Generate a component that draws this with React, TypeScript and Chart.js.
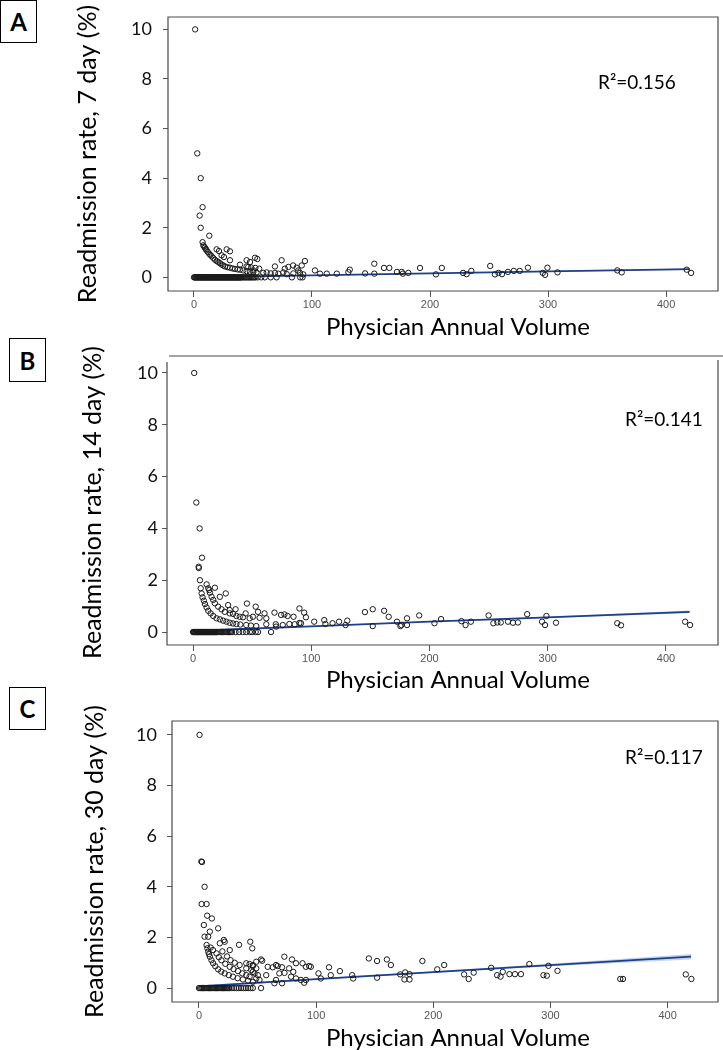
import React, { useEffect, useRef } from "react";
import { Chart, registerables } from "chart.js";

Chart.register(...registerables);

// ---------------- data ----------------
const X_TICKS = [0, 100, 200, 300, 400];
const Y_TICKS = [0, 2, 4, 6, 8, 10];
const FIT_X = [0, 100, 200, 300, 420];

// Panel A (7 day)
const A_ZERO_X = [0,0.5,1,1.5,2,2.5,3,3.5,4,4.5,5,5.5,6,6.5,7,7.5,8,8.5,9,9.5,10,10.5,11,11.5,12,12.5,13,13.5,14,14.5,15,15.5,16,16.5,17,17.5,18,18.5,19,19.5,20,20.5,21,21.5,22,22.5,23,23.5,24,24.5,25,25.5,26,26.5,27,27.5,28,28.5,29,29.5,30,30.5,31,31.5,32,32.5,33,33.5,34,34.5,35,35.5,36,36.5,37,37.5,38,38.5,39,39.5,40,41,42,43,44,45,46,47,48,49,50,51,52,54,57,60,65,70,83,90,92];
const A_POINTS: [number, number][] = [
  [1,10],[2.8,5.0],[5.7,4.0],[7.3,2.83],[4.8,2.49],[5.7,2.0],[13,1.68],[7.3,1.42],
  [7.9,1.29],[8.6,1.24],[9.3,1.2],[10,1.14],[10.7,1.09],[11.8,1.02],[13,0.95],[14,0.9],[15,0.85],[16.4,0.78],
  [17.8,0.71],[19.2,0.66],[20.6,0.62],[22,0.57],[23.4,0.52],[24.8,0.48],[26.3,0.44],[28.4,0.41],[30.5,0.39],
  [32.6,0.36],[34.7,0.34],[37,0.32],[39,0.31],[41.8,0.28],[44.6,0.25],[47.5,0.23],[50.3,0.21],[53,0.19],
  [19.2,1.13],[21.2,1.06],[27.7,1.13],[30.5,1.05],[23.4,0.89],[25.4,0.82],[30.5,0.69],[39,0.51],[44.6,0.69],
  [47.5,0.62],[51.7,0.79],[53.7,0.74],[44.6,0.44],[46,0.42],[48.5,0.4],[52,0.38],[55.3,0.35],[50.3,0.28],
  [58.7,0.18],[61.6,0.2],[65,0.16],[68.6,0.18],[71.5,0.15],[75.7,0.2],[78.6,0.13],[84.2,0.16],[89.8,0.18],[92.6,0.12],
  [68.6,0.44],[74.3,0.69],[77,0.35],[80,0.42],[84,0.48],[87,0.39],[88.4,0.28],[91.3,0.48],[94,0.66],
  [102.5,0.28],[106.8,0.15],[112.5,0.15],[121,0.15],[130.8,0.21],[132,0.31],
  [145,0.16],[152.8,0.55],[152.8,0.15],[161,0.38],[165.5,0.38],[172,0.22],[176,0.22],[177,0.15],[181.6,0.18],
  [191.5,0.38],[205,0.12],[210,0.38],[228,0.18],[231,0.13],[235,0.26],[251,0.46],[255,0.12],[258,0.18],
  [261,0.13],[266,0.22],[271,0.26],[276,0.26],[283,0.39],[295.5,0.18],[297.5,0.1],[299.5,0.39],[308,0.2],
  [358.7,0.28],[362.4,0.2],[417.5,0.31],[421.2,0.18],
];
const A_FIT = [0.0, 0.08, 0.16, 0.24, 0.33];
const A_BAND_LO = [-0.02, 0.065, 0.145, 0.22, 0.3];
const A_BAND_HI = [0.02, 0.095, 0.175, 0.26, 0.36];

// Panel B (14 day)
const B_ZERO_X = [0,0.5,1,1.5,2,2.5,3,3.5,4,4.5,5,5.5,6,6.5,7,7.5,8,8.5,9,9.5,10,10.5,11,11.5,12,12.5,13,13.5,14,14.5,15,15.5,16,16.5,17,17.5,18,18.5,19,19.5,20,21,22,23,24,25,26,27,28,29,30,31,32,33,36,39,42,45,48,50,53,55,66];
const B_POINTS: [number, number][] = [
  [1,10],[2.8,5.0],[5.6,4.0],[7.6,2.87],[4.8,2.52],[4.9,2.47],[5.9,2.0],[11.5,1.84],[13.7,1.62],[18.5,1.71],
  [22.7,1.36],[27.7,1.49],
  [6.5,1.69],[7.3,1.49],[8.1,1.34],[9.2,1.21],[10.1,1.08],[11.5,0.95],[12.9,0.82],[14.9,0.72],[17.1,0.62],
  [19.9,0.53],[22.7,0.49],[25.5,0.44],[28.3,0.4],[31,0.36],[33.8,0.33],[36.7,0.31],[40,0.29],[45,0.27],[49,0.25],[53.5,0.23],
  [12.9,1.69],[14.3,1.52],[15.7,1.36],[17.1,1.24],[18.5,1.11],[21.3,0.98],[24.1,0.88],[26.9,0.78],[31.1,0.72],
  [36.7,0.62],[42.3,0.57],[47.9,0.53],
  [29.7,1.04],[31,0.85],[33.9,0.7],[39.5,0.59],[45.6,1.1],[44.5,0.72],[53,0.98],[55,0.78],[50.7,0.59],[56.3,0.55],
  [62,0.53],[60.5,0.72],[36,0.88],
  [68.9,0.75],[74.5,0.66],[77.3,0.68],[80,0.62],[85,0.59],[90,0.91],[94,0.75],[95.5,0.57],[91.3,0.34],[81.5,0.31],
  [75.9,0.27],[70.3,0.21],[62,0.3],[70,0.3],[86,0.3],[90,0.35],
  [102.5,0.4],[111,0.46],[118,0.34],[123.5,0.4],[130.5,0.44],[112,0.31],[129,0.27],
  [145.4,0.77],[152,0.88],[152,0.23],[161.6,0.82],[165.5,0.59],[172.5,0.4],[175.4,0.23],[176.2,0.27],[181,0.27],
  [181,0.53],[191.3,0.64],[204.2,0.34],[209.8,0.5],[227,0.42],[230.5,0.27],[235,0.4],[250,0.64],[254,0.34],
  [257.4,0.37],[260.3,0.37],[266.4,0.4],[270.6,0.36],[274.8,0.37],[282.6,0.69],[295.2,0.4],[297.7,0.27],
  [298.9,0.62],[307,0.36],[358.8,0.34],[362,0.26],[416.2,0.4],[420.4,0.27],
];
const B_FIT = [0.05, 0.22, 0.4, 0.57, 0.78];
const B_BAND_LO = [0.02, 0.2, 0.38, 0.54, 0.73];
const B_BAND_HI = [0.08, 0.24, 0.42, 0.6, 0.83];

// Panel C (30 day)
const C_ZERO_X = [0,1,2,3,4,5,6,7,8,9,10,11,12,13,14,15,16,17,18,19,20,21,22,23,24,25,26,28,30,32,34,36,38,40,42,44,46,53];
const C_POINTS: [number, number][] = [
  [0.5,10],[2,5.0],[2.6,4.98],[4.8,4.0],[2.3,3.32],[6.5,3.32],[7,2.86],[11,2.75],[4.2,2.49],[9.3,2.23],[16.4,2.36],
  [4.8,2.03],[7.9,2.03],[34.2,1.71],[43.8,1.83],[45.5,1.57],[26.3,1.5],[21.2,1.9],[17.8,1.77],[22,1.83],
  [54,1.08],[48.9,1.04],[46,0.91],[53,1.13],
  [6.5,1.7],[7.2,1.57],[7.9,1.44],[8.6,1.34],[9.3,1.24],[10.7,1.1],[12.1,0.98],[14,0.86],[16.4,0.74],[19,0.65],
  [22,0.58],[25.5,0.51],[29,0.45],[33,0.39],[37.5,0.34],[42,0.29],[46,0.25],
  [10,1.6],[12,1.5],[15,1.37],[17,1.22],[19.2,1.1],[22.5,0.96],[26.3,0.84],[29.5,0.75],[33.3,0.67],[37,0.58],[40.4,0.51],
  [20,1.45],[24,1.25],[27,1.1],[30.5,1.0],[34.7,0.91],[40.4,0.78],[46,0.64],
  [40.4,0.98],[43.2,0.95],[46,0.87],[48.9,0.78],[44.7,0.71],[47.5,0.58],[50.3,0.51],[43.2,0.45],[48.9,0.38],[51.7,0.32],
  [57.4,0.51],[58.7,0.84],[63,0.82],[65.8,0.91],[67.2,0.87],[70.9,0.82],[72.9,1.24],[79.4,1.13],[82.8,0.98],
  [88.4,0.98],[91.3,0.84],[94.1,0.87],[95.5,0.84],[77,0.78],[73,0.6],[68.6,0.58],[80.5,0.64],[78.6,0.45],
  [65.8,0.32],[70.9,0.19],[64.4,0.19],[82.8,0.38],[87,0.32],[89.8,0.21],[91.3,0.32],[102,0.58],[111,0.82],
  [112.5,0.51],[120.3,0.67],[130.8,0.51],[131.6,0.38],[104,0.38],
  [145,1.17],[152,1.07],[152,0.41],[160.4,1.13],[163.8,0.91],[171.8,0.54],[176,0.62],[179.7,0.55],[175.4,0.34],
  [179.7,0.34],[190.7,1.07],[203.4,0.74],[209.3,0.91],[226.3,0.54],[230.2,0.36],[234.5,0.61],[249.4,0.8],
  [254.5,0.51],[257.4,0.45],[259.3,0.64],[265,0.55],[269.7,0.55],[274.8,0.55],[282,0.95],[294,0.51],[296.9,0.49],
  [298.3,0.88],[306,0.68],[359.6,0.36],[361.9,0.36],[415.5,0.54],[420.3,0.36],
];
const C_FIT = [0.07, 0.35, 0.63, 0.91, 1.24];
const C_BAND_LO = [0.03, 0.32, 0.6, 0.86, 1.13];
const C_BAND_HI = [0.11, 0.38, 0.66, 0.96, 1.35];

const X_TITLE = "Physician Annual Volume";

// ---------------- layout ----------------
const W = 723;
const FONT = "Lato";

type Panel = {
  key: string;
  label: string;
  top: number;
  height: number;
  area: { left: number; top: number; right: number; bottom: number };
  xMin: number; xMax: number; yMin: number; yMax: number;
  zeroX: number[];
  points: [number, number][];
  fit: number[]; lo: number[]; hi: number[];
  r2: string;
  yTitle: string;
  yTitleCenter: number;
  yTickPad: number;
  r2X: number; r2Base: number;
  xTitleBase: number;
  topGap: number;
  box: { left: number; top: number; w: number; h: number };
};

const PANELS: Panel[] = [
  {
    key: "A", label: "A", top: 0, height: 340,
    area: { left: 168, top: 17, right: 718, bottom: 291 },
    xMin: -22, xMax: 444, yMin: -0.55, yMax: 10.5,
    zeroX: A_ZERO_X, points: A_POINTS, fit: A_FIT, lo: A_BAND_LO, hi: A_BAND_HI,
    r2: "R\u00B2=0.156", yTitle: "Readmission rate, 7 day (%)",
    yTitleCenter: 88, yTickPad: 11, r2X: 598, r2Base: 89, xTitleBase: 335, topGap: 0,
    box: { left: 0, top: 0, w: 37, h: 43 },
  },
  {
    key: "B", label: "B", top: 340, height: 360,
    area: { left: 167, top: 20, right: 721, bottom: 305 },
    xMin: -22, xMax: 444, yMin: -0.5, yMax: 10.5,
    zeroX: B_ZERO_X, points: B_POINTS, fit: B_FIT, lo: B_BAND_LO, hi: B_BAND_HI,
    r2: "R\u00B2=0.141", yTitle: "Readmission rate, 14 day (%)",
    yTitleCenter: 93, yTickPad: 4, r2X: 625, r2Base: 86, xTitleBase: 348, topGap: 4,
    box: { left: 9, top: 338, w: 37, h: 44 },
  },
  {
    key: "C", label: "C", top: 700, height: 350,
    area: { left: 172, top: 21, right: 722, bottom: 302 },
    xMin: -23, xMax: 443, yMin: -0.55, yMax: 10.55,
    zeroX: C_ZERO_X, points: C_POINTS, fit: C_FIT, lo: C_BAND_LO, hi: C_BAND_HI,
    r2: "R\u00B2=0.117", yTitle: "Readmission rate, 30 day (%)",
    yTitleCenter: 95, yTickPad: 10, r2X: 625, r2Base: 64, xTitleBase: 346, topGap: 0,
    box: { left: 9, top: 687, w: 37, h: 43 },
  },
];

const decoPlugin = {
  id: "deco",
  afterDraw(chart: any, _args: any, o: any) {
    const { ctx, chartArea: a } = chart;
    ctx.save();
    ctx.strokeStyle = "#4a4a4a";
    ctx.lineWidth = 1.2;
    ctx.beginPath();
    if (o.topGap > 0) {
      ctx.moveTo(a.left, a.top + 2);
      ctx.lineTo(a.left, a.bottom);
      ctx.lineTo(a.right, a.bottom);
      ctx.lineTo(a.right, a.top);
      ctx.moveTo(a.left + 2, a.top - o.topGap);
      ctx.lineTo(chart.width, a.top - o.topGap);
    } else {
      ctx.rect(a.left, a.top, a.right - a.left, a.bottom - a.top);
    }
    ctx.stroke();
    ctx.fillStyle = "#000";
    ctx.font = `24px ${FONT}`;
    ctx.textAlign = "center";
    ctx.textBaseline = "alphabetic";
    ctx.fillText(o.xTitle, o.xTitleX, o.xTitleBase);
    ctx.font = `19px ${FONT}`;
    ctx.textAlign = "left";
    ctx.fillText(o.r2, o.r2X, o.r2Base);
    ctx.restore();
  },
};

function makeConfig(p: Panel): any {
  const H = p.height;
  const pts = [
    ...p.zeroX.map((x) => ({ x, y: 0 })),
    ...p.points.map(([x, y]) => ({ x, y })),
  ];
  const fit = FIT_X.map((x, i) => ({ x, y: p.fit[i] }));
  const hi = FIT_X.map((x, i) => ({ x, y: p.hi[i] }));
  const lo = FIT_X.map((x, i) => ({ x, y: p.lo[i] }));
  const yTitleSize = 25;
  return {
    type: "scatter",
    data: {
      datasets: [
        {
          data: pts,
          pointRadius: 2.7,
          pointBorderWidth: 1,
          pointBorderColor: "#1a1a1a",
          pointBackgroundColor: "rgba(0,0,0,0)",
          order: 0,
        },
        {
          type: "line",
          data: fit,
          borderColor: "#1d3f8c",
          borderWidth: 1.8,
          pointRadius: 0,
          fill: false,
          order: 1,
        },
        {
          type: "line",
          data: hi,
          borderColor: "rgba(0,0,0,0)",
          borderWidth: 0,
          pointRadius: 0,
          fill: false,
          order: 2,
        },
        {
          type: "line",
          data: lo,
          borderColor: "rgba(0,0,0,0)",
          borderWidth: 0,
          pointRadius: 0,
          fill: "-1",
          backgroundColor: "rgba(110,155,215,0.42)",
          order: 3,
        },
      ],
    },
    options: {
      responsive: false,
      maintainAspectRatio: false,
      animation: false,
      events: [],
      layout: {
        padding: { left: 0, top: p.area.top, right: W - p.area.right, bottom: 0 },
      },
      plugins: {
        legend: { display: false },
        tooltip: { enabled: false },
        deco: {
          topGap: p.topGap,
          xTitle: X_TITLE,
          xTitleX: 458,
          xTitleBase: p.xTitleBase,
          r2: p.r2,
          r2X: p.r2X,
          r2Base: p.r2Base,
        },
      },
      scales: {
        x: {
          type: "linear",
          min: p.xMin,
          max: p.xMax,
          afterBuildTicks: (s: any) => {
            s.ticks = X_TICKS.map((v) => ({ value: v }));
          },
          ticks: {
            font: { family: "Liberation Sans", size: 11 },
            color: "#555",
            padding: 1,
            maxRotation: 0,
            autoSkip: false,
          },
          grid: { drawOnChartArea: false, drawTicks: true, tickLength: 6, color: "#555" },
          border: { display: false },
          afterFit: (s: any) => {
            s.height = H - p.area.bottom;
            s.paddingLeft = 0;
            s.paddingRight = 0;
          },
        },
        y: {
          type: "linear",
          min: p.yMin,
          max: p.yMax,
          afterBuildTicks: (s: any) => {
            s.ticks = Y_TICKS.map((v) => ({ value: v }));
          },
          ticks: {
            font: { family: FONT, size: 18 },
            color: "#111",
            padding: p.yTickPad,
            autoSkip: false,
          },
          grid: { drawOnChartArea: false, drawTicks: true, tickLength: 5, color: "#555" },
          border: { display: false },
          title: {
            display: true,
            text: p.yTitle,
            color: "#000",
            font: { family: FONT, size: yTitleSize },
            padding: { top: p.yTitleCenter - (yTitleSize * 1.2) / 2, bottom: 0 },
          },
          afterFit: (s: any) => {
            s.width = p.area.left;
            s.paddingTop = 0;
            s.paddingBottom = 0;
          },
        },
      },
    },
    plugins: [decoPlugin],
  };
}

function PanelChart({ p }: { p: Panel }) {
  const ref = useRef<HTMLCanvasElement | null>(null);
  useEffect(() => {
    if (!ref.current) return;
    const chart = new Chart(ref.current, makeConfig(p));
    return () => chart.destroy();
  }, [p]);
  return (
    <canvas
      ref={ref}
      width={W}
      height={p.height}
      style={{ position: "absolute", left: 0, top: p.top, width: W, height: p.height }}
    />
  );
}

export default function App() {
  return (
    <div
      style={{
        position: "absolute",
        left: 0,
        top: 0,
        width: W,
        height: 1050,
        background: "#fff",
        overflow: "hidden",
      }}
    >
      {PANELS.map((p) => (
        <PanelChart key={p.key} p={p} />
      ))}
      {PANELS.map((p) => (
        <div
          key={"lbl" + p.key}
          style={{
            position: "absolute",
            left: p.box.left,
            top: p.box.top,
            width: p.box.w,
            height: p.box.h,
            boxSizing: "border-box",
            border: "1.5px solid #000",
            background: "#fff",
            display: "flex",
            alignItems: "center",
            justifyContent: "center",
            fontFamily: FONT,
            fontWeight: 700,
            fontSize: 24,
            color: "#000",
          }}
        >
          {p.label}
        </div>
      ))}
    </div>
  );
}
